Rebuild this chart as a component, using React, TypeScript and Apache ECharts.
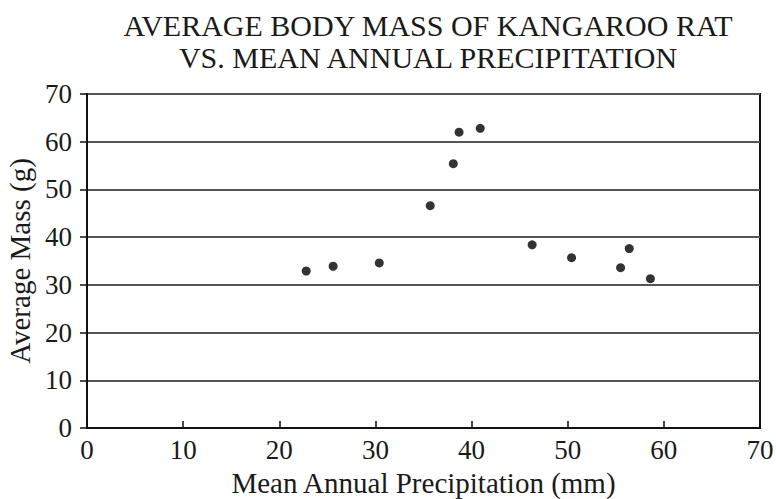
import React, { useEffect, useRef } from "react";
import * as echarts from "echarts";

const precipitation = [22.8, 25.6, 30.4, 35.7, 38.1, 38.7, 40.9, 46.3, 50.4, 55.5, 56.4, 58.6];
const averageMass = [32.9, 33.9, 34.6, 46.6, 55.4, 62.0, 62.8, 38.4, 35.7, 33.6, 37.6, 31.3];
const titleLines = ["AVERAGE BODY MASS OF KANGAROO RAT", "VS. MEAN ANNUAL PRECIPITATION"];
const xName = "Mean Annual Precipitation (mm)";
const yName = "Average Mass (g)";

const FONT = "'Liberation Serif', 'DejaVu Serif', serif";

export default function App() {
  const ref = useRef<HTMLDivElement>(null);
  useEffect(() => {
    if (!ref.current) return;
    const chart = echarts.init(ref.current, undefined, { renderer: "svg" });
    chart.setOption({
      animation: false,
      backgroundColor: "#ffffff",
      title: {
        text: titleLines.join("\n"),
        left: 423,
        textAlign: "center",
        top: 4,
        textStyle: { fontFamily: FONT, fontSize: 30, fontWeight: "normal", color: "#1a1a1a", lineHeight: 32 },
      },
      grid: {
        left: 87,
        right: 16,
        top: 94,
        bottom: 71,
        containLabel: false,
        outerBoundsMode: "none",
        show: true,
        borderColor: "#111",
        borderWidth: 2,
        backgroundColor: "transparent",
      },
      xAxis: {
        type: "value",
        min: 0,
        max: 70,
        interval: 10,
        name: xName,
        nameLocation: "middle",
        nameGap: 40,
        nameTextStyle: { fontFamily: FONT, fontSize: 29, color: "#1a1a1a" },
        axisLine: { show: true, lineStyle: { color: "#111", width: 2 } },
        axisTick: { show: true, inside: true, length: 7, lineStyle: { color: "#111", width: 1.5 } },
        axisLabel: { fontFamily: FONT, fontSize: 27, color: "#1a1a1a", margin: 8 },
        splitLine: { show: false },
      },
      yAxis: {
        type: "value",
        min: 0,
        max: 70,
        interval: 10,
        name: yName,
        nameLocation: "middle",
        nameGap: 52,
        nameTextStyle: { fontFamily: FONT, fontSize: 29, color: "#1a1a1a" },
        axisLine: { show: true, lineStyle: { color: "#111", width: 2 } },
        axisTick: { show: true, inside: false, length: 7, lineStyle: { color: "#111", width: 1.5 } },
        axisLabel: { fontFamily: FONT, fontSize: 27, color: "#1a1a1a", margin: 15 },
        splitLine: { show: true, lineStyle: { color: "#555", width: 1.8 } },
      },
      series: [
        {
          type: "scatter",
          data: precipitation.map((x, i) => [x, averageMass[i]]),
          symbol: "circle",
          symbolSize: 9,
          itemStyle: { color: "#000" },
        },
      ],
    });
    return () => chart.dispose();
  }, []);
  return <div ref={ref} style={{ position: "fixed", left: 0, top: 0, width: 776, height: 499 }} />;
}
